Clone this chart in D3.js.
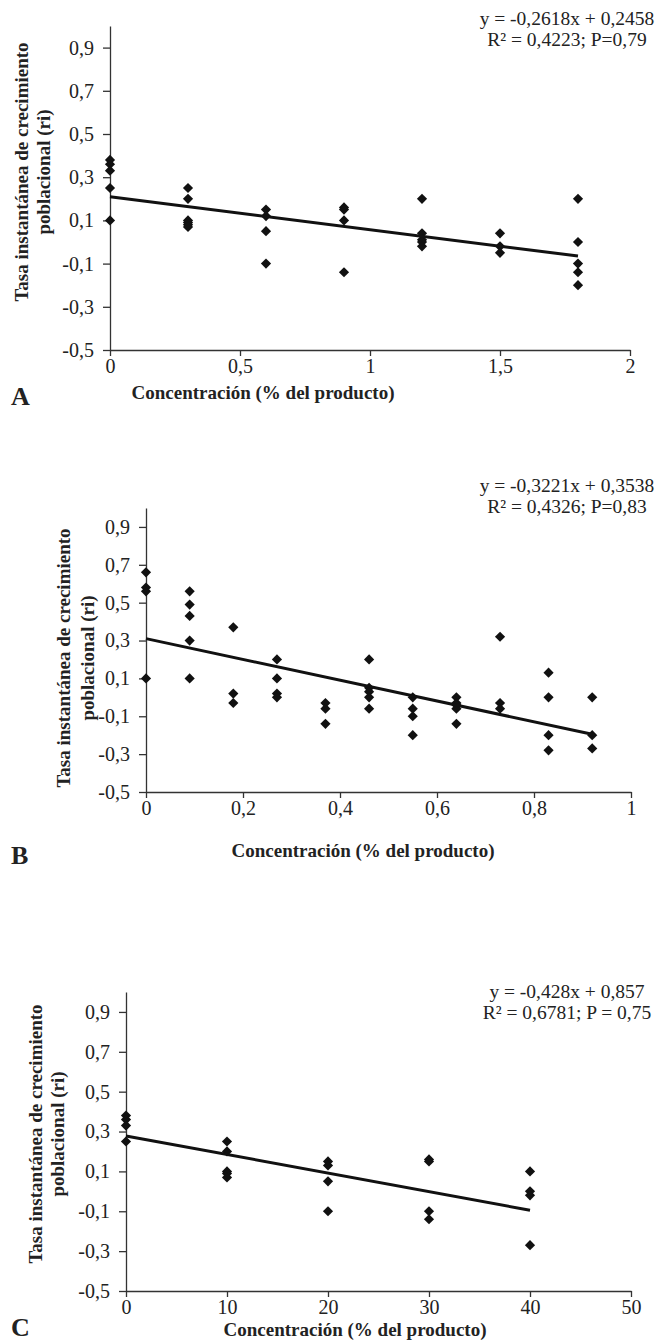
<!DOCTYPE html>
<html>
<head>
<meta charset="utf-8">
<script src="https://cdn.jsdelivr.net/npm/d3@7"></script>
<style>
  body { margin: 0; background: #fff; }
  svg text { font-family: "Liberation Serif", "Times New Roman", serif; fill: #222; }
  .axis path, .axis line { stroke: #333; stroke-width: 1.3; fill: none; }
  .axis text { font-size: 20px; }
  .lab { font-size: 19px; font-weight: bold; }
  .eq { font-size: 19.5px; }
  .letter { font-size: 26px; font-weight: bold; }
</style>
</head>
<body>
<svg id="chart" width="659" height="1343"></svg>
<script>
// ---- data ----
var yTicks = [-0.5, -0.3, -0.1, 0.1, 0.3, 0.5, 0.7, 0.9];

// Panel A
var concA = [0, 0.3, 0.6, 0.9, 1.2, 1.5, 1.8];
var rateA = [
  [0.38, 0.36, 0.33, 0.25, 0.1],
  [0.25, 0.2, 0.1, 0.09, 0.08, 0.07],
  [0.15, 0.12, 0.05, -0.1],
  [0.16, 0.15, 0.1, -0.14],
  [0.2, 0.04, 0.01, 0.0, -0.02],
  [0.04, -0.02, -0.05],
  [0.2, 0.0, -0.1, -0.14, -0.2]
];
var trendA = [[0, 0.21], [1.8, -0.065]];
var xTicksA = [0, 0.5, 1, 1.5, 2];
var eqA = ["y = -0,2618x + 0,2458", "R\u00b2 = 0,4223; P=0,79"];

// Panel B
var concB = [0, 0.09, 0.18, 0.27, 0.37, 0.46, 0.55, 0.64, 0.73, 0.83, 0.92];
var rateB = [
  [0.66, 0.58, 0.56, 0.1],
  [0.56, 0.49, 0.43, 0.3, 0.1],
  [0.37, 0.02, -0.03],
  [0.2, 0.1, 0.02, 0.0],
  [-0.03, -0.06, -0.14],
  [0.2, 0.05, 0.03, 0.0, -0.06],
  [0.0, -0.06, -0.1, -0.2],
  [0.0, -0.03, -0.04, -0.06, -0.14],
  [0.32, -0.03, -0.06],
  [0.13, 0.0, -0.2, -0.28],
  [0.0, -0.2, -0.27]
];
var trendB = [[0, 0.31], [0.92, -0.195]];
var xTicksB = [0, 0.2, 0.4, 0.6, 0.8, 1];
var eqB = ["y = -0,3221x + 0,3538", "R\u00b2 = 0,4326; P=0,83"];

// Panel C
var concC = [0, 10, 20, 30, 40];
var rateC = [
  [0.38, 0.36, 0.33, 0.25],
  [0.25, 0.2, 0.1, 0.09, 0.07],
  [0.15, 0.13, 0.05, -0.1],
  [0.16, 0.15, -0.1, -0.14],
  [0.1, 0.0, -0.02, -0.27]
];
var trendC = [[0, 0.278], [40, -0.095]];
var xTicksC = [0, 10, 20, 30, 40, 50];
var eqC = ["y = -0,428x + 0,857", "R\u00b2 = 0,6781; P = 0,75"];

var yTitle = ["Tasa instant\u00e1nea de crecimiento", "poblacional (ri)"];
var xTitle = "Concentraci\u00f3n (% del producto)";

// ---- layout per panel ----
var panels = [
  {conc: concA, rate: rateA, trend: trendA, xTicks: xTicksA, eq: eqA, letter: "A",
   xr: [110, 630], yr: [350, 26], eqY: 25, labX: [21, 43], labY: 172,
   xLabX: 263, xLabY: 399, letterY: 405},
  {conc: concB, rate: rateB, trend: trendB, xTicks: xTicksB, eq: eqB, letter: "B",
   xr: [146, 631], yr: [792, 508], eqY: 492, labX: [63, 87], labY: 658,
   xLabX: 363, xLabY: 857, letterY: 864},
  {conc: concC, rate: rateC, trend: trendC, xTicks: xTicksC, eq: eqC, letter: "C",
   xr: [126, 631], yr: [1291, 992], eqY: 998, labX: [35, 57], labY: 1134,
   xLabX: 355, xLabY: 1336, letterY: 1336}
];

var svg = d3.select("#chart");
var fmt = function (d) { return String(d).replace(".", ","); };
var diamond = d3.symbol().type(d3.symbolSquare).size(52);

panels.forEach(function (p) {
  var x = d3.scaleLinear()
    .domain([p.xTicks[0], p.xTicks[p.xTicks.length - 1]])
    .range(p.xr);
  var y = d3.scaleLinear().domain([-0.5, 1]).range(p.yr);

  var g = svg.append("g");

  g.append("g")
    .attr("class", "axis")
    .attr("transform", "translate(0," + y(-0.5) + ")")
    .call(d3.axisBottom(x).tickValues(p.xTicks).tickFormat(fmt).tickSize(6).tickSizeOuter(0).tickPadding(3));

  g.append("g")
    .attr("class", "axis")
    .attr("transform", "translate(" + x(p.xTicks[0]) + ",0)")
    .call(d3.axisLeft(y).tickValues(yTicks).tickFormat(fmt).tickSize(7).tickSizeOuter(0).tickPadding(9));

  // points
  var pts = [];
  p.conc.forEach(function (c, i) {
    p.rate[i].forEach(function (r) { pts.push([c, r]); });
  });
  g.selectAll("path.pt")
    .data(pts)
    .enter().append("path")
    .attr("class", "pt")
    .attr("d", diamond)
    .attr("fill", "#111")
    .attr("transform", function (d) {
      return "translate(" + x(d[0]) + "," + y(d[1]) + ") rotate(45)";
    });

  // trend line
  g.append("path")
    .datum(p.trend)
    .attr("fill", "none")
    .attr("stroke", "#111")
    .attr("stroke-width", 3)
    .attr("d", d3.line().x(function (d) { return x(d[0]); }).y(function (d) { return y(d[1]); }));

  // equation
  g.selectAll("text.eq")
    .data(p.eq)
    .enter().append("text")
    .attr("class", "eq")
    .attr("x", 567)
    .attr("y", function (d, i) { return p.eqY + i * 21; })
    .attr("text-anchor", "middle")
    .text(function (d) { return d; });

  // y title
  yTitle.forEach(function (t, i) {
    g.append("text")
      .attr("class", "lab")
      .attr("transform", "translate(" + p.labX[i] + "," + p.labY + ") rotate(-90)")
      .attr("dy", "0.35em")
      .attr("text-anchor", "middle")
      .text(t);
  });

  // x title
  g.append("text")
    .attr("class", "lab")
    .attr("x", p.xLabX)
    .attr("y", p.xLabY)
    .attr("text-anchor", "middle")
    .text(xTitle);

  g.append("text")
    .attr("class", "letter")
    .attr("x", 11)
    .attr("y", p.letterY)
    .text(p.letter);
});
</script>
</body>
</html>
